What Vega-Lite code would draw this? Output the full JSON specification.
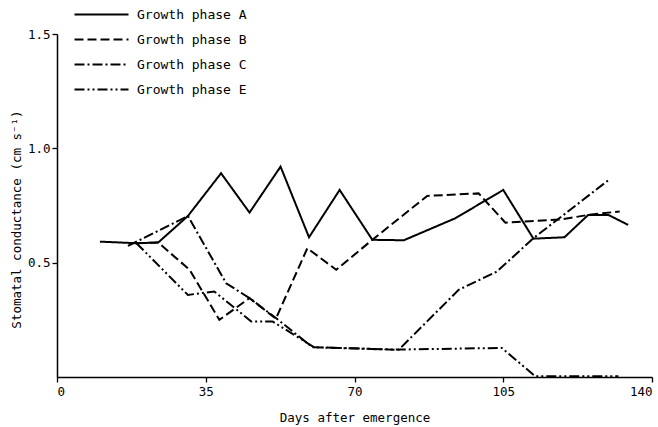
{
  "$schema": "https://vega.github.io/schema/vega-lite/v6.json",
  "width": 595,
  "height": 343,
  "autosize": {"type": "none"},
  "padding": {"left": 57, "top": 34, "right": 6, "bottom": 50},
  "background": "white",
  "config": {
    "view": {"stroke": null},
    "font": "DejaVu Sans Mono",
    "axis": {"grid": false, "domainColor": "black", "domainWidth": 1.5, "tickColor": "black", "tickWidth": 1.3, "tickSize": 5, "labelColor": "black", "titleColor": "black", "labelFont": "DejaVu Sans Mono", "titleFont": "DejaVu Sans Mono", "labelFontSize": 12.5, "titleFontSize": 12.5, "titleFontWeight": "normal"}
  },
  "data": {
    "values": [
      {"phase": "Growth phase A", "day": 10.1, "g": 0.592},
      {"phase": "Growth phase A", "day": 18.7, "g": 0.585},
      {"phase": "Growth phase A", "day": 23.8, "g": 0.588},
      {"phase": "Growth phase A", "day": 30.8, "g": 0.704},
      {"phase": "Growth phase A", "day": 38.6, "g": 0.891},
      {"phase": "Growth phase A", "day": 45.3, "g": 0.719},
      {"phase": "Growth phase A", "day": 52.6, "g": 0.92},
      {"phase": "Growth phase A", "day": 59.3, "g": 0.611},
      {"phase": "Growth phase A", "day": 66.5, "g": 0.818},
      {"phase": "Growth phase A", "day": 74.2, "g": 0.6},
      {"phase": "Growth phase A", "day": 81.6, "g": 0.598},
      {"phase": "Growth phase A", "day": 93.7, "g": 0.694},
      {"phase": "Growth phase A", "day": 105.0, "g": 0.818},
      {"phase": "Growth phase A", "day": 112.1, "g": 0.605},
      {"phase": "Growth phase A", "day": 119.4, "g": 0.611},
      {"phase": "Growth phase A", "day": 125.0, "g": 0.709},
      {"phase": "Growth phase A", "day": 129.7, "g": 0.709},
      {"phase": "Growth phase A", "day": 134.4, "g": 0.665},
      {"phase": "Growth phase B", "day": 18.7, "g": 0.585},
      {"phase": "Growth phase B", "day": 23.8, "g": 0.588},
      {"phase": "Growth phase B", "day": 31.2, "g": 0.469},
      {"phase": "Growth phase B", "day": 38.2, "g": 0.25},
      {"phase": "Growth phase B", "day": 45.3, "g": 0.345},
      {"phase": "Growth phase B", "day": 51.5, "g": 0.255},
      {"phase": "Growth phase B", "day": 58.9, "g": 0.563},
      {"phase": "Growth phase B", "day": 65.7, "g": 0.469},
      {"phase": "Growth phase B", "day": 74.2, "g": 0.6},
      {"phase": "Growth phase B", "day": 87.1, "g": 0.792},
      {"phase": "Growth phase B", "day": 99.2, "g": 0.803},
      {"phase": "Growth phase B", "day": 105.5, "g": 0.675},
      {"phase": "Growth phase B", "day": 119.0, "g": 0.69},
      {"phase": "Growth phase B", "day": 125.0, "g": 0.709},
      {"phase": "Growth phase B", "day": 132.4, "g": 0.724},
      {"phase": "Growth phase C", "day": 16.7, "g": 0.573},
      {"phase": "Growth phase C", "day": 30.8, "g": 0.704},
      {"phase": "Growth phase C", "day": 39.8, "g": 0.41},
      {"phase": "Growth phase C", "day": 45.3, "g": 0.345},
      {"phase": "Growth phase C", "day": 51.5, "g": 0.258},
      {"phase": "Growth phase C", "day": 60.1, "g": 0.13},
      {"phase": "Growth phase C", "day": 80.4, "g": 0.119},
      {"phase": "Growth phase C", "day": 94.5, "g": 0.381},
      {"phase": "Growth phase C", "day": 103.5, "g": 0.461},
      {"phase": "Growth phase C", "day": 112.1, "g": 0.607},
      {"phase": "Growth phase C", "day": 129.7, "g": 0.86},
      {"phase": "Growth phase E", "day": 18.7, "g": 0.585},
      {"phase": "Growth phase E", "day": 30.8, "g": 0.359},
      {"phase": "Growth phase E", "day": 37.0, "g": 0.374},
      {"phase": "Growth phase E", "day": 45.7, "g": 0.243},
      {"phase": "Growth phase E", "day": 50.7, "g": 0.243},
      {"phase": "Growth phase E", "day": 60.5, "g": 0.13},
      {"phase": "Growth phase E", "day": 80.0, "g": 0.12},
      {"phase": "Growth phase E", "day": 104.7, "g": 0.127},
      {"phase": "Growth phase E", "day": 112.5, "g": 0.003},
      {"phase": "Growth phase E", "day": 132.1, "g": 0.003}
    ]
  },
  "mark": {"type": "line", "color": "black", "strokeWidth": 2},
  "encoding": {
    "x": {"field": "day", "type": "quantitative", "scale": {"domain": [0, 140], "nice": false, "zero": false}, "axis": {"values": [0, 35, 70, 105, 140], "title": "Days after emergence", "labelPadding": 3, "titlePadding": 14}},
    "y": {"field": "g", "type": "quantitative", "scale": {"domain": [0, 1.5], "nice": false}, "axis": {"values": [0.5, 1.0, 1.5], "format": ".1f", "title": "Stomatal conductance (cm s⁻¹)", "labelPadding": 2, "titlePadding": 4, "titleY": 185}},
    "strokeDash": {"field": "phase", "type": "nominal", "scale": {"domain": ["Growth phase A", "Growth phase B", "Growth phase C", "Growth phase E"], "range": [[1, 0], [9, 4], [10, 3, 2, 3], [10, 3, 2, 3, 2, 3]]}, "legend": {"title": null, "orient": "none", "legendX": 34, "legendY": -30, "symbolType": "M-3,0H3", "symbolSize": 324, "symbolStrokeWidth": 2.2, "symbolStrokeColor": "black", "symbolFillColor": "transparent", "labelFontSize": 13, "labelFont": "DejaVu Sans Mono", "labelColor": "black", "labelOffset": 25, "rowPadding": 7}},
    "order": {"field": "day", "type": "quantitative"}
  }
}
